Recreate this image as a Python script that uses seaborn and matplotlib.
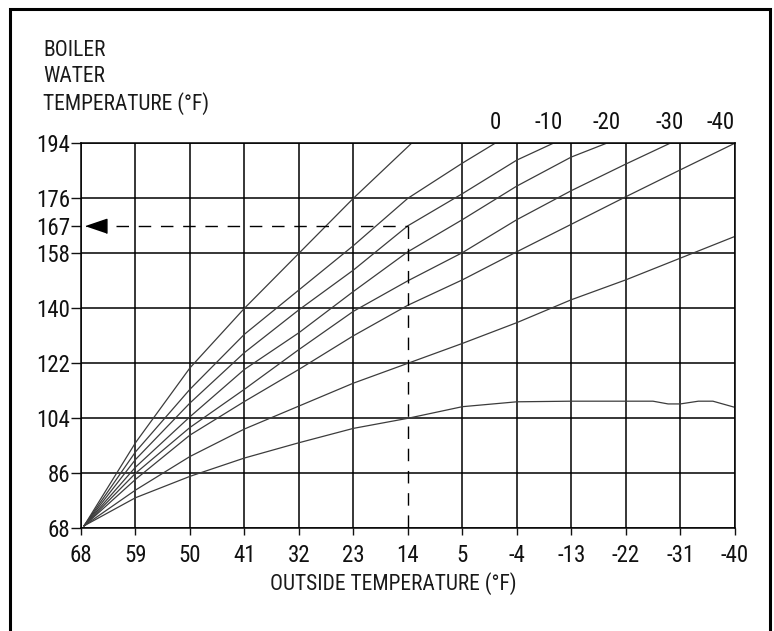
"""
Boiler water temperature reset curves vs outside temperature.
"""

import matplotlib
matplotlib.use("Agg")
import matplotlib.pyplot as plt
import matplotlib.patches as mpatches
from matplotlib import font_manager
import pandas as pd
import seaborn as sns

# ==========================================
# DATA
# ==========================================
X_TICKS = [68, 59, 50, 41, 32, 23, 14, 5, -4, -13, -22, -31, -40]
Y_TICKS = [68, 86, 104, 122, 140, 158, 167, 176, 194]

# steepest curve (no label)
curve_a_x = [67.5, 59, 50, 41, 32, 23, 13.4]
curve_a_y = [68.8, 96, 120.5, 140, 158, 176, 194]

# curve labelled "0"
curve_b_x = [67.5, 59, 50, 41, 32, 23, 14, 5, -0.4]
curve_b_y = [68.8, 93, 113.5, 131.5, 146, 160.5, 176, 187.5, 194]

# curve labelled "-10"
curve_c_x = [67.5, 59, 50, 41, 32, 23, 14, 5, -4, -10]
curve_c_y = [68.8, 90.5, 109, 125.5, 139.5, 152.5, 167, 177.5, 188.5, 194]

# curve labelled "-20"
curve_d_x = [67.5, 59, 50, 41, 32, 23, 14, 5, -4, -13, -18.8]
curve_d_y = [68.8, 88, 104.5, 120, 132, 145.5, 158.5, 169, 180, 189.5, 194]

# curve labelled "-30"
curve_e_x = [67.5, 59, 50, 41, 32, 23, 14, 5, -4, -13, -22, -29.3]
curve_e_y = [68.8, 86, 101, 113.5, 126.5, 139, 149, 158.2, 169, 178.5, 187.2, 194]

# curve labelled "-40"
curve_f_x = [67.5, 59, 50, 41, 32, 23, 14, 5, -4, -13, -22, -31, -40]
curve_f_y = [68.8, 84, 98.5, 109.5, 120, 131, 141, 149.3, 158.5, 167.5, 176.5, 185.3, 194]

# lower unlabelled curves
curve_g_x = [67.5, 59, 50, 41, 32, 23, 14, 5, -4, -13, -22, -31, -40]
curve_g_y = [68.8, 80.5, 91.5, 100.5, 108, 115.5, 122, 128.5, 135.3, 142.8, 149.3, 156.4, 163.5]

curve_h_x = [67.5, 59, 50, 41, 32, 23, 14, 5, -4, -13, -22, -26.5, -29, -31, -34, -36.4, -40]
curve_h_y = [68.8, 78, 85, 91, 96, 100.7, 104, 107.8, 109.4, 109.6, 109.6, 109.6,
             108.7, 108.7, 109.6, 109.6, 107.6]

CURVE_LABELS = ["0", "-10", "-20", "-30", "-40"]
CURVE_LABEL_X = [-0.4, -9.3, -18.8, -29.2, -40]

# example reading: 14 F outside -> 167 F boiler water
EXAMPLE_X = 14
EXAMPLE_Y = 167
ARROW_X = 65.6
DASH_START_X = 62.2

# ==========================================
# BUILD LONG TABLE
# ==========================================
curves = {
    "A": (curve_a_x, curve_a_y),
    "B": (curve_b_x, curve_b_y),
    "C": (curve_c_x, curve_c_y),
    "D": (curve_d_x, curve_d_y),
    "E": (curve_e_x, curve_e_y),
    "F": (curve_f_x, curve_f_y),
    "G": (curve_g_x, curve_g_y),
    "H": (curve_h_x, curve_h_y),
}
rows = []
for name, (xs, ys) in curves.items():
    for i, (xv, yv) in enumerate(zip(xs, ys)):
        rows.append({"curve": name, "order": i, "outside": xv, "boiler": yv})
df = pd.DataFrame(rows)


def pick_font():
    """Prefer a narrow sans like the original artwork."""
    entries = font_manager.fontManager.ttflist
    names = {f.name for f in entries}
    for cand in ["Liberation Sans Narrow", "Roboto Condensed", "Open Sans Condensed"]:
        if cand in names:
            return cand, "normal"
    for f in entries:
        if f.name == "DejaVu Sans" and "condensed" in str(f.stretch):
            return "DejaVu Sans", "condensed"
    return "Liberation Sans", "normal"


def main():
    sns.set_theme(style="ticks")
    family, stretch = pick_font()
    plt.rcParams["font.family"] = [family, "DejaVu Sans"]
    plt.rcParams["font.stretch"] = stretch

    fig = plt.figure(figsize=(7.74, 6.31), dpi=100)
    ax = fig.add_axes([81 / 774, 1 - 528.3 / 631, (734.7 - 81) / 774, (528.3 - 143.3) / 631])

    sns.lineplot(
        data=df, x="outside", y="boiler", hue="curve", units="curve",
        estimator=None, sort=False, legend=False,
        palette={k: "#3c3c3c" for k in curves}, linewidth=0.9, ax=ax,
    )

    ax.set_xlim(68, -40)
    ax.set_ylim(68, 194)
    ax.set_xticks(X_TICKS)
    ax.set_xticklabels([str(v) for v in X_TICKS])
    ax.set_yticks(Y_TICKS)
    ax.set_yticklabels([str(v) for v in Y_TICKS])
    ax.set_xlabel("")
    ax.set_ylabel("")

    # black grid, but none under the dashed example lines
    ax.grid(True, color="black", linewidth=1.1)
    ax.set_axisbelow(True)
    for val, gl in zip(Y_TICKS, ax.get_ygridlines()):
        if val == EXAMPLE_Y:
            gl.set_visible(False)
    for val, gl in zip(X_TICKS, ax.get_xgridlines()):
        if val == EXAMPLE_X:
            gl.set_visible(False)

    for sp in ax.spines.values():
        sp.set_visible(True)
        sp.set_color("black")
        sp.set_linewidth(1.1)

    ax.tick_params(axis="y", length=7, width=1.0, pad=1, labelsize=16.5, colors="#111111")
    ax.tick_params(axis="x", length=5, width=1.0, pad=6, labelsize=16.5, colors="#111111")

    # example dashed reading lines + arrow head
    dash = (0, (9, 7))
    ax.plot([DASH_START_X, EXAMPLE_X], [EXAMPLE_Y, EXAMPLE_Y],
            color="black", linewidth=1.0, linestyle=dash)
    ax.plot([EXAMPLE_X, EXAMPLE_X], [EXAMPLE_Y, 68],
            color="black", linewidth=1.0, linestyle=dash)
    ax.plot([ARROW_X], [EXAMPLE_Y],
            marker=[(-1.0, 0), (1.0, 0.68), (1.0, -0.68)], markersize=15,
            color="black", linestyle="none", clip_on=False)

    # curve end labels above the chart
    for lab, lx in zip(CURVE_LABELS, CURVE_LABEL_X):
        ax.annotate(lab, xy=(lx, 194), xytext=(0, 7), textcoords="offset points",
                    ha="right" if lx == -40 else "center", va="bottom",
                    fontsize=16.5, color="#111111")

    fig.text(43 / 774, 1 - 40 / 631, "BOILER\nWATER\nTEMPERATURE (°F)",
             ha="left", va="top", fontsize=15.5, linespacing=1.3, color="#1a1a1a")
    fig.text((268 + 518) / 2 / 774, 1 - 584 / 631, "OUTSIDE TEMPERATURE (°F)",
             ha="center", va="center", fontsize=15.5, color="#1a1a1a")

    # outer frame (bottom edge runs off the image)
    frame = mpatches.Rectangle((10 / 774, -0.05), 760 / 774, 1.05 - 9 / 631,
                               transform=fig.transFigure, fill=False,
                               edgecolor="black", linewidth=2.2, clip_on=False)
    fig.patches.append(frame)

    fig.savefig("out.png", dpi=100)
    plt.close(fig)


if __name__ == "__main__":
    main()
